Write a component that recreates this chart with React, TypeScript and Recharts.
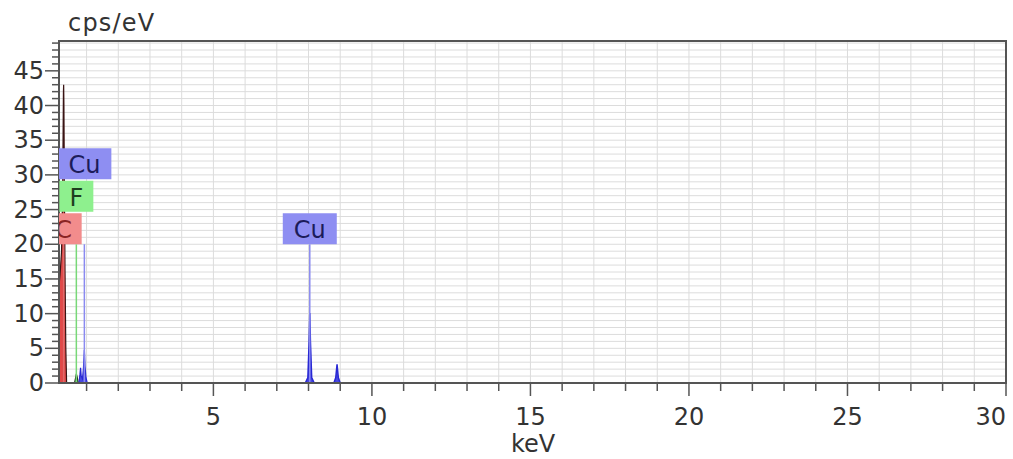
import React from 'react';
import {
  ComposedChart,
  Area,
  XAxis,
  YAxis,
  CartesianGrid,
  ReferenceLine,
  ReferenceDot,
  ReferenceArea,
} from 'recharts';

// ---- data ----
const cKeV = [0.13, 0.17, 0.21, 0.24, 0.26, 0.27, 0.277, 0.285, 0.3, 0.32, 0.345, 0.37];
const cCounts = [14, 16, 19, 26, 36, 42, 43, 40, 28, 16, 5, 0];

const fKeV = [0.62, 0.66, 0.677, 0.7, 0.74];
const fCounts = [0, 0.9, 1.3, 0.9, 0];

const cuLKeV = [0.76, 0.79, 0.81, 0.83, 0.87, 0.9, 0.93, 0.95, 0.98, 1.02];
const cuLCounts = [0, 1.2, 2.2, 1.0, 0.6, 2.0, 4.8, 2.4, 0.8, 0];

const cuKKeV = [7.9, 7.98, 8.02, 8.04, 8.06, 8.1, 8.18, 8.8, 8.86, 8.9, 8.94, 9.0];
const cuKCounts = [0, 0.8, 6, 10.1, 6, 0.8, 0, 0, 0.8, 2.7, 0.8, 0];

// element markers (line energy, marker height, label, stack level)
const markerKeV = [0.277, 0.677, 0.93, 8.04];
const markerHeight = [20, 20, 20, 20];
const markerLabel = ['C', 'F', 'Cu', 'Cu'];
const markerLevel = [0, 1, 2, 0];
const markerElement = ['C', 'F', 'Cu', 'Cu'];

const xMajorTicks = [5, 10, 15, 20, 25, 30];
const yMajorTicks = [0, 5, 10, 15, 20, 25, 30, 35, 40, 45];
const xDomain: [number, number] = [0.13, 30];
const yDomain: [number, number] = [0, 49.3];

const xAxisTitle = 'keV';
const yAxisTitle = 'cps/eV';

// ---- styles / layout ----
const FONT = '"DejaVu Sans", Verdana, sans-serif';
const AXIS = '#555555';
const TEXT = '#333333';
const Y_AXIS_WIDTH = 59; // plot area starts right of the y axis
const elementStyle: Record<string, { box: string; text: string; line: string; fill: string; stroke: string }> = {
  C: { box: '#f28c8c', text: '#8a2424', line: '#e06a6a', fill: '#e04848', stroke: '#3a1414' },
  F: { box: '#8ef08e', text: '#1f3f1f', line: '#78d878', fill: '#5cc85c', stroke: '#1e2e1e' },
  Cu: { box: '#8e8ef2', text: '#1c1c5a', line: '#8a8af0', fill: '#4848e0', stroke: '#2828d4' },
};
const boxWidth: Record<string, number> = { C: 36, F: 34, Cu: 54 };

// ---- table built from the arrays ----
type Row = { keV: number; c?: number; f?: number; cuL?: number; cuK?: number };
const rows: Row[] = [];
cKeV.forEach((k, i) => rows.push({ keV: k, c: cCounts[i] }));
fKeV.forEach((k, i) => rows.push({ keV: k, f: fCounts[i] }));
cuLKeV.forEach((k, i) => rows.push({ keV: k, cuL: cuLCounts[i] }));
cuKKeV.forEach((k, i) => rows.push({ keV: k, cuK: cuKCounts[i] }));
rows.sort((a, b) => a.keV - b.keV);

const xTicks: number[] = [];
for (let k = 1; k <= 30; k++) xTicks.push(k);
const yTicks: number[] = [];
for (let v = 0; v <= 49; v++) yTicks.push(v);

const XTick = (props: any) => {
  const { x, y, payload } = props;
  const v = payload.value;
  const major = xMajorTicks.includes(v);
  return (
    <g>
      <line x1={x} y1={y} x2={x} y2={y + (major ? 13 : 8)} stroke={AXIS} strokeWidth={1.5} />
      {major && (
        <text
          x={x}
          y={y + 42}
          textAnchor={v === 30 ? 'end' : 'middle'}
          fontSize={24}
          fontFamily={FONT}
          fill={TEXT}
        >
          {v}
        </text>
      )}
    </g>
  );
};

const YTick = (props: any) => {
  const { x, y, payload } = props;
  const v = payload.value;
  const major = yMajorTicks.includes(v);
  return (
    <g>
      <line x1={x} y1={y} x2={x - (major ? 14 : 7)} y2={y} stroke={AXIS} strokeWidth={1.5} />
      {major && (
        <text x={x - 15} y={y + 8} textAnchor="end" fontSize={24} fontFamily={FONT} fill={TEXT}>
          {v}
        </text>
      )}
    </g>
  );
};

const makeLabelShape = (label: string, level: number, el: string, idx: number) => (props: any) => {
  const { cx, cy } = props;
  const w = boxWidth[label];
  const h = 31;
  const step = 32.5;
  const bottom = cy - level * step;
  const st = elementStyle[el];
  const clipId = 'lblclip' + idx;
  return (
    <g>
      <defs>
        <clipPath id={clipId}>
          <rect x={Y_AXIS_WIDTH} y={0} width={2000} height={2000} />
        </clipPath>
      </defs>
      <g clipPath={`url(#${clipId})`}>
        <rect x={cx - w / 2} y={bottom - h} width={w} height={h} fill={st.box} />
        <text
          x={cx}
          y={bottom - 6}
          textAnchor="middle"
          fontSize={24}
          fontFamily={FONT}
          fill={st.text}
        >
          {label}
        </text>
      </g>
    </g>
  );
};

export default function App() {
  return (
    <div style={{ position: 'absolute', left: 0, top: 0, width: 1013, height: 459, background: '#fff' }}>
      <ComposedChart
        width={1013}
        height={459}
        data={rows}
        margin={{ top: 41, right: 7, left: 0, bottom: 0 }}
      >
        <CartesianGrid stroke="#dcdcdc" strokeWidth={1} />
        <XAxis
          dataKey="keV"
          type="number"
          domain={xDomain}
          ticks={xTicks}
          allowDataOverflow
          height={76}
          tickSize={0}
          tickMargin={0}
          tickLine={false}
          axisLine={{ stroke: AXIS, strokeWidth: 2 }}
          tick={<XTick />}
          interval={0}
        />
        <YAxis
          type="number"
          domain={yDomain}
          ticks={yTicks}
          allowDataOverflow
          width={Y_AXIS_WIDTH}
          tickSize={0}
          tickMargin={0}
          tickLine={false}
          axisLine={{ stroke: AXIS, strokeWidth: 2 }}
          tick={<YTick />}
          interval={0}
        />
        <ReferenceArea
          x1={xDomain[0]}
          x2={xDomain[1]}
          y1={yDomain[0]}
          y2={yDomain[1]}
          fill="none"
          fillOpacity={0}
          stroke={AXIS}
          strokeWidth={2}
          ifOverflow="visible"
        />
        {markerKeV.map((k, i) => (
          <ReferenceLine
            key={'m' + i}
            segment={[
              { x: k, y: 0 },
              { x: k, y: markerHeight[i] },
            ]}
            stroke={elementStyle[markerElement[i]].line}
            strokeWidth={1.5}
            ifOverflow="hidden"
          />
        ))}
        <Area
          dataKey="c"
          type="linear"
          stroke={elementStyle.C.stroke}
          strokeWidth={1.2}
          fill={elementStyle.C.fill}
          fillOpacity={1}
          isAnimationActive={false}
          dot={false}
          activeDot={false}
        />
        <Area
          dataKey="f"
          type="linear"
          stroke={elementStyle.F.stroke}
          strokeWidth={1.2}
          fill={elementStyle.F.fill}
          fillOpacity={1}
          isAnimationActive={false}
          dot={false}
          activeDot={false}
        />
        <Area
          dataKey="cuL"
          type="linear"
          stroke={elementStyle.Cu.stroke}
          strokeWidth={1.2}
          fill={elementStyle.Cu.fill}
          fillOpacity={1}
          isAnimationActive={false}
          dot={false}
          activeDot={false}
        />
        <Area
          dataKey="cuK"
          type="linear"
          stroke={elementStyle.Cu.stroke}
          strokeWidth={1.5}
          fill={elementStyle.Cu.fill}
          fillOpacity={1}
          isAnimationActive={false}
          dot={false}
          activeDot={false}
        />
        {markerKeV.map((k, i) => (
          <ReferenceDot
            key={'l' + i}
            x={k}
            y={markerHeight[i]}
            ifOverflow="visible"
            shape={makeLabelShape(markerLabel[i], markerLevel[i], markerElement[i], i)}
          />
        ))}
      </ComposedChart>
      <svg
        width={1013}
        height={459}
        style={{ position: 'absolute', left: 0, top: 0, pointerEvents: 'none' }}
      >
        <text x={68} y={31} fontSize={24} fontFamily={FONT} fill={TEXT} letterSpacing={1.2}>
          {yAxisTitle}
        </text>
        <text x={533} y={452} textAnchor="middle" fontSize={24} fontFamily={FONT} fill={TEXT}>
          {xAxisTitle}
        </text>
      </svg>
    </div>
  );
}
